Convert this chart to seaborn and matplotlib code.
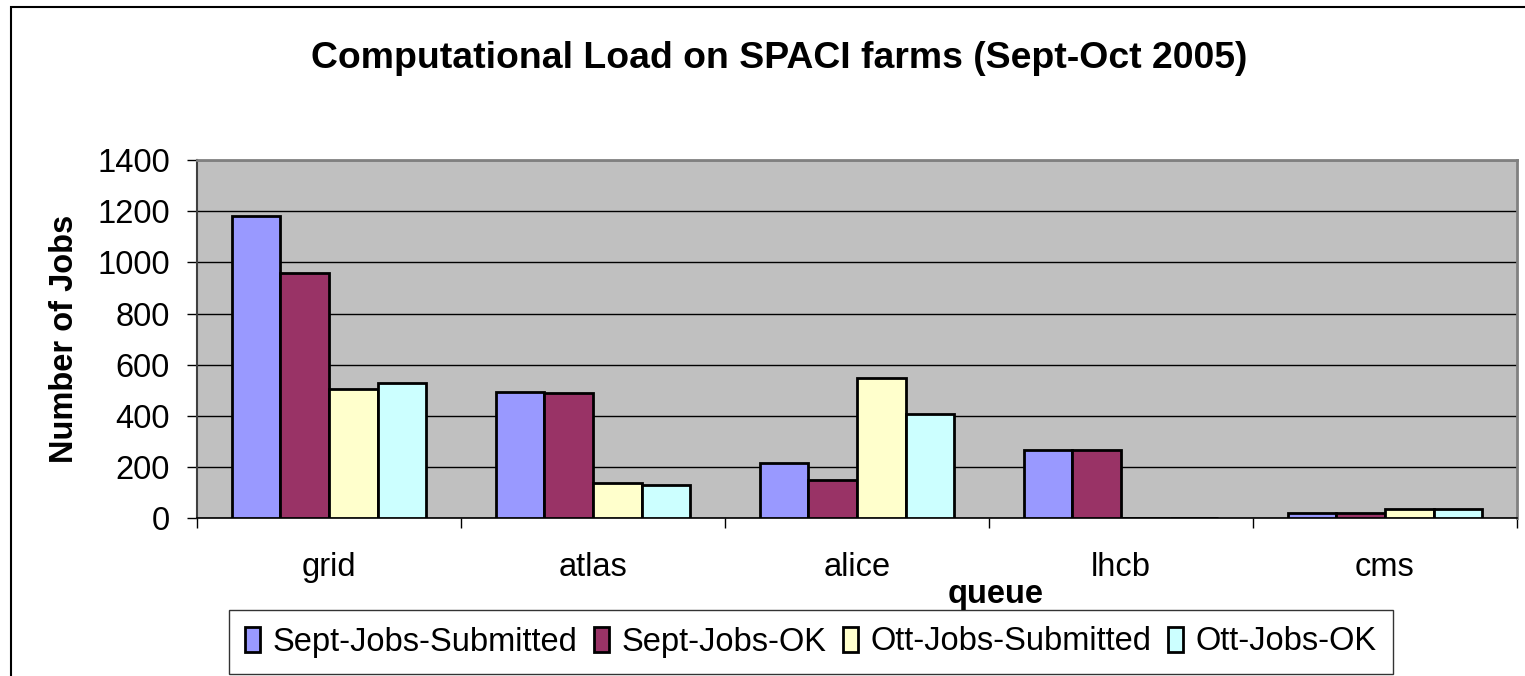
import numpy as np
import pandas as pd
import matplotlib
matplotlib.use("Agg")
import matplotlib.pyplot as plt
import matplotlib.patches as mpatches
import seaborn as sns

# queues and series
queues = ["grid", "atlas", "alice", "lhcb", "cms"]
series = ["Sept-Jobs-Submitted", "Sept-Jobs-OK", "Ott-Jobs-Submitted", "Ott-Jobs-OK"]
sept_submitted = [1180, 495, 218, 268, 20]
sept_ok = [960, 488, 150, 268, 20]
ott_submitted = [507, 137, 547, 0, 38]
ott_ok = [527, 129, 407, 0, 38]
colors = ["#9999FF", "#993366", "#FFFFCC", "#CCFFFF"]

# long format table for seaborn
rows = []
for name, vals in zip(series, [sept_submitted, sept_ok, ott_submitted, ott_ok]):
    for q, v in zip(queues, vals):
        rows.append({"queue": q, "series": name, "jobs": v})
df = pd.DataFrame(rows)

sns.set_style("white")
plt.rcParams["font.family"] = ["Liberation Sans", "DejaVu Sans"]
plt.rcParams.update({"text.color": "black", "axes.labelcolor": "black",
                     "xtick.color": "black", "ytick.color": "black"})

W, H = 1525, 676
fig = plt.figure(figsize=(W / 100, H / 100), dpi=100)
ax = fig.add_axes([197 / W, 1 - 518.3 / H, (1517 - 197) / W, (518.3 - 160) / H])
ax.set_facecolor("#C0C0C0")

sns.barplot(data=df, x="queue", y="jobs", hue="series", order=queues,
            hue_order=series, palette=colors, width=0.735, gap=0,
            edgecolor="black", linewidth=2.0, saturation=1, ax=ax, zorder=3)

handles = ax.get_legend().legend_handles
ax.get_legend().remove()

ax.set_ylim(0, 1400)
ax.set_xlim(-0.5, 4.5)
ax.set_yticks(np.arange(0, 1401, 200))
ax.yaxis.grid(True, color="black", linewidth=1.0, zorder=0)
ax.set_axisbelow(True)

ax.tick_params(axis="y", which="major", length=7.5, width=1,
               labelsize=23.5, pad=12, left=True)
ax.tick_params(axis="x", which="major", length=0, labelsize=23.5, pad=24)
ax.set_xticks(np.arange(-0.5, 5), minor=True)
ax.tick_params(axis="x", which="minor", length=7.5, width=1, bottom=True)

for side in ["top", "right"]:
    ax.spines[side].set_color("#808080")
    ax.spines[side].set_linewidth(2)
ax.spines["left"].set_color("#404040")
ax.spines["left"].set_linewidth(1.5)
ax.spines["bottom"].set_color("black")
ax.spines["bottom"].set_linewidth(1.2)

ax.set_xlabel("")
ax.set_ylabel("Number of Jobs", fontsize=23.5, fontweight="bold", labelpad=12)
fig.text(996 / W, 1 - 595 / H, "queue", ha="center", va="center",
         fontsize=23.5, fontweight="bold")

fig.text(779 / W, 1 - 59 / H, "Computational Load on SPACI farms (Sept-Oct 2005)",
         ha="center", va="center", fontsize=26.9, fontweight="bold")

leg = fig.legend(handles, series, loc="center", bbox_to_anchor=(811 / W, 1 - 642 / H),
                 ncol=4, fontsize=23.5, frameon=True, fancybox=False,
                 edgecolor="black", handlelength=0.45, handleheight=0.8,
                 handletextpad=0.4, columnspacing=0.5, borderpad=0.5)
leg.get_frame().set_linewidth(1.0)
for h in leg.legend_handles:
    h.set_edgecolor("black")
    h.set_linewidth(2.0)

# outer chart frame
fig.patches.append(mpatches.Rectangle((11 / W, -0.1), 2, (H - 7) / H + 0.1,
                                      transform=fig.transFigure, fill=False,
                                      edgecolor="black", linewidth=1.5))

fig.savefig("out.png", dpi=100)
